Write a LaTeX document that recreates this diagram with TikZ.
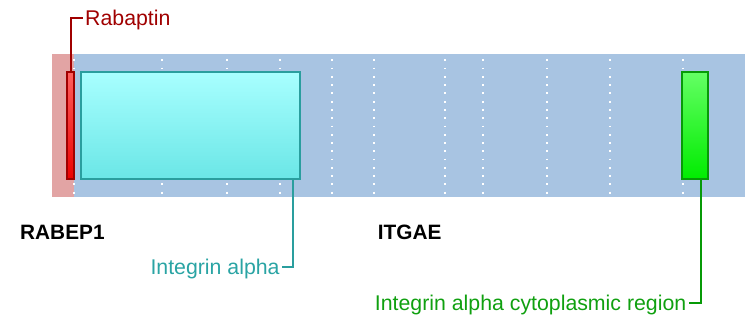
\documentclass[tikz,border=0pt]{standalone}
\usepackage{fontspec}
\setmainfont{Liberation Sans}
\definecolor{barblue}{HTML}{A8C4E2}
\definecolor{pinkreg}{HTML}{E2A4A4}
\definecolor{redborder}{HTML}{A00000}
\definecolor{redtext}{HTML}{A00000}
\definecolor{tealborder}{HTML}{2A9E9E}
\definecolor{tealtext}{HTML}{2AA4A4}
\definecolor{greenborder}{HTML}{079A07}
\definecolor{greentext}{HTML}{10A010}
\begin{document}
\begin{tikzpicture}[x=1pt,y=-1pt,
  dom/.style={rectangle, draw, line width=1.7pt, inner sep=0pt, outer sep=0pt, anchor=north west},
  lbl/.style={font=\fontsize{21.3}{25}\selectfont, inner sep=2.5pt, text height=15.2pt, text depth=0pt},
  gene/.style={font=\fontsize{20.8}{24}\selectfont\bfseries, inner sep=0pt, anchor=base west},
  leader/.style={line width=2pt}
]
\useasboundingbox (0,0) rectangle (753,327);
% backbone
\fill[barblue] (52,54) rectangle (745,197);
\fill[pinkreg] (52,54) rectangle (74,197);
% dotted grid
\foreach \x in {73.7,162,227.3,280,332,374,445,483,546.7,609.7,683}
  \draw[white, line width=1.8pt, dash pattern=on 1.8pt off 6.47pt] (\x,59.4) -- (\x,194);
% domains
\node[dom, draw=redborder, top color={rgb,255:red,255;green,96;blue,96}, bottom color={rgb,255:red,236;green,0;blue,0}, minimum width=7.3pt, minimum height=107.3pt] (rab) at (67,72) {};
\node[dom, draw=tealborder, top color={rgb,255:red,168;green,255;blue,255}, middle color={rgb,255:red,158;green,252;blue,252}, bottom color={rgb,255:red,106;green,230;blue,230}, minimum width=219pt, minimum height=107.3pt] (ia) at (81,72) {};
\node[dom, draw=greenborder, top color={rgb,255:red,100;green,255;blue,100}, bottom color={rgb,255:red,0;green,236;blue,0}, minimum width=25.4pt, minimum height=107.3pt] (iacyt) at (682.3,72) {};
% labels
\node[lbl, text=redtext, anchor=west] (rablbl) at (82.5,18) {Rabaptin};
\node[lbl, text=tealtext, anchor=east] (ialbl) at (282.3,267.3) {Integrin alpha};
\node[lbl, text=greentext, anchor=east] (iacytlbl) at (689,302.7) {Integrin alpha cytoplasmic region};
\coordinate (iafoot) at (293,179.3);
\coordinate (iacytfoot) at (700.5,179.3);
% leaders
\draw[leader, redborder] (rab.north) |- (rablbl.west);
\draw[leader, tealborder] (iafoot) |- (ialbl.east);
\draw[leader, greenborder] (iacytfoot) |- (iacytlbl.east);
% gene names
\node[gene] (g1) at (20,239.3) {RABEP1};
\node[gene] (g2) at (377.7,239.3) {ITGAE};
\end{tikzpicture}
\end{document}
